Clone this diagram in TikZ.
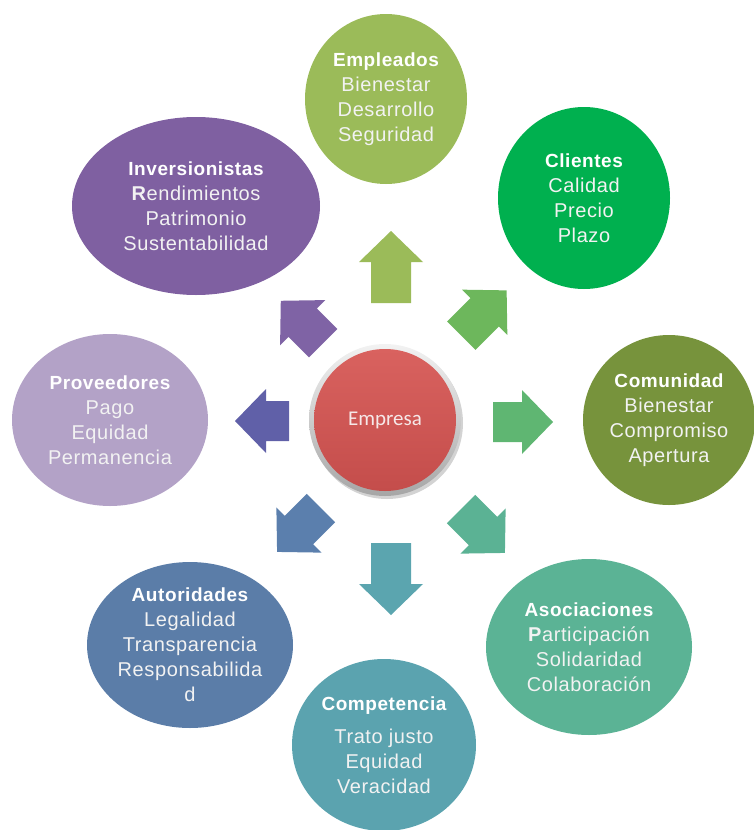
\documentclass[tikz,border=0pt]{standalone}
\usepackage{fontspec}
\setmainfont{Liberation Sans}
\newfontfamily\calibri{Carlito}
\usetikzlibrary{shapes.geometric,shadows}
\definecolor{cEmpl}{HTML}{9BBB59}
\definecolor{cCli}{HTML}{00B04F}
\definecolor{cCom}{HTML}{77933C}
\definecolor{cAso}{HTML}{5BB395}
\definecolor{cCmp}{HTML}{5BA3AF}
\definecolor{cAut}{HTML}{5B7DA8}
\definecolor{cPro}{HTML}{B3A2C7}
\definecolor{cInv}{HTML}{7F60A1}
\definecolor{aN}{HTML}{9BBB59}
\definecolor{aNE}{HTML}{6DB75C}
\definecolor{aE}{HTML}{5FB672}
\definecolor{aSE}{HTML}{5BB294}
\definecolor{aS}{HTML}{5BA5AF}
\definecolor{aSW}{HTML}{5B7FAD}
\definecolor{aW}{HTML}{6060A8}
\definecolor{aNW}{HTML}{7F63A5}
\definecolor{redTop}{HTML}{D9625F}
\definecolor{redMid}{HTML}{D15654}
\definecolor{redBot}{HTML}{C44D4B}
\definecolor{txt}{HTML}{F2F2F2}
\begin{document}
\begin{tikzpicture}[x=1pt,y=-1pt,
  stake/.style={ellipse, inner sep=0pt, text=txt, align=center,
    font=\addfontfeatures{LetterSpace=3}\fontsize{20}{25}\selectfont},
  pics/bigarrow/.style={code={
    \fill[pic actions] (-#1,-20) -- (#1-31,-20) -- (#1-31,-32) -- (#1,0)
      -- (#1-31,32) -- (#1-31,20) -- (-#1,20) -- cycle;}}]
\useasboundingbox (0,0) rectangle (753,830);
\newcommand\ttl[1]{\textcolor{white}{\bfseries\fontsize{19}{25}\selectfont #1}}

% stakeholder ellipses
\node[stake, fill=cEmpl, minimum width=162pt, minimum height=170pt] (empl) at (386,99)
  {\ttl{Empleados}\\Bienestar\\Desarrollo\\Seguridad};
\node[stake, fill=cCli, minimum width=172pt, minimum height=182pt] (cli) at (584,198)
  {\ttl{Clientes}\\Calidad\\Precio\\Plazo};
\node[stake, fill=cCom, minimum width=172pt, minimum height=170pt] (com) at (669,420)
  {\ttl{Comunidad}\\Bienestar\\Compromiso\\Apertura};
\node[stake, fill=cAso, minimum width=206pt, minimum height=176pt] (aso) at (589,647)
  {\ttl{Asociaciones}\\\textbf{P}articipación\\Solidaridad\\Colaboración};
\node[stake, fill=cCmp, minimum width=184pt, minimum height=172pt] (cmp) at (384,745)
  {\ttl{Competencia}\\[8pt]Trato justo\\Equidad\\Veracidad};
\node[stake, fill=cAut, minimum width=206pt, minimum height=166pt] (aut) at (190,645)
  {\ttl{Autoridades}\\Legalidad\\Transparencia\\Responsabilida\\d};
\node[stake, fill=cPro, minimum width=196pt, minimum height=172pt] (pro) at (110,420)
  {\ttl{Proveedores}\\Pago\\Equidad\\Permanencia};
\node[stake, fill=cInv, minimum width=248pt, minimum height=178pt] (inv) at (196,206)
  {\ttl{Inversionistas}\\\textbf{R}endimientos\\Patrimonio\\Sustentabilidad};

% arrows
\pic[fill=aN, rotate=90] (arN) at (391,267) {bigarrow=36};
\pic[fill=aNE, rotate=45] (arNE) at (484,313) {bigarrow=32};
\pic[fill=aE, rotate=0] (arE) at (523,422) {bigarrow=30};
\pic[fill=aSE, rotate=-45] (arSE) at (483,531) {bigarrow=31};
\pic[fill=aS, rotate=-90] (arS) at (391,579) {bigarrow=36};
\pic[fill=aSW, rotate=-135] (arSW) at (299,530) {bigarrow=31};
\pic[fill=aW, rotate=180] (arW) at (262,421) {bigarrow=27};
\pic[fill=aNW, rotate=135] (arNW) at (302,322) {bigarrow=30};

% center
\node[circle, minimum size=152pt, inner sep=0pt, top color=gray!10, bottom color=gray!70,
  drop shadow={opacity=0.35, shadow xshift=2pt, shadow yshift=-3pt}] (ring) at (385,420) {};
\node[circle, minimum size=142pt, inner sep=0pt, top color=redTop, middle color=redMid,
  bottom color=redBot, text={rgb,255:red,246;green,232;blue,232},
  font=\calibri\fontsize{21}{24}\selectfont] (emp) at (ring.center) {Empresa};
\end{tikzpicture}
\end{document}
